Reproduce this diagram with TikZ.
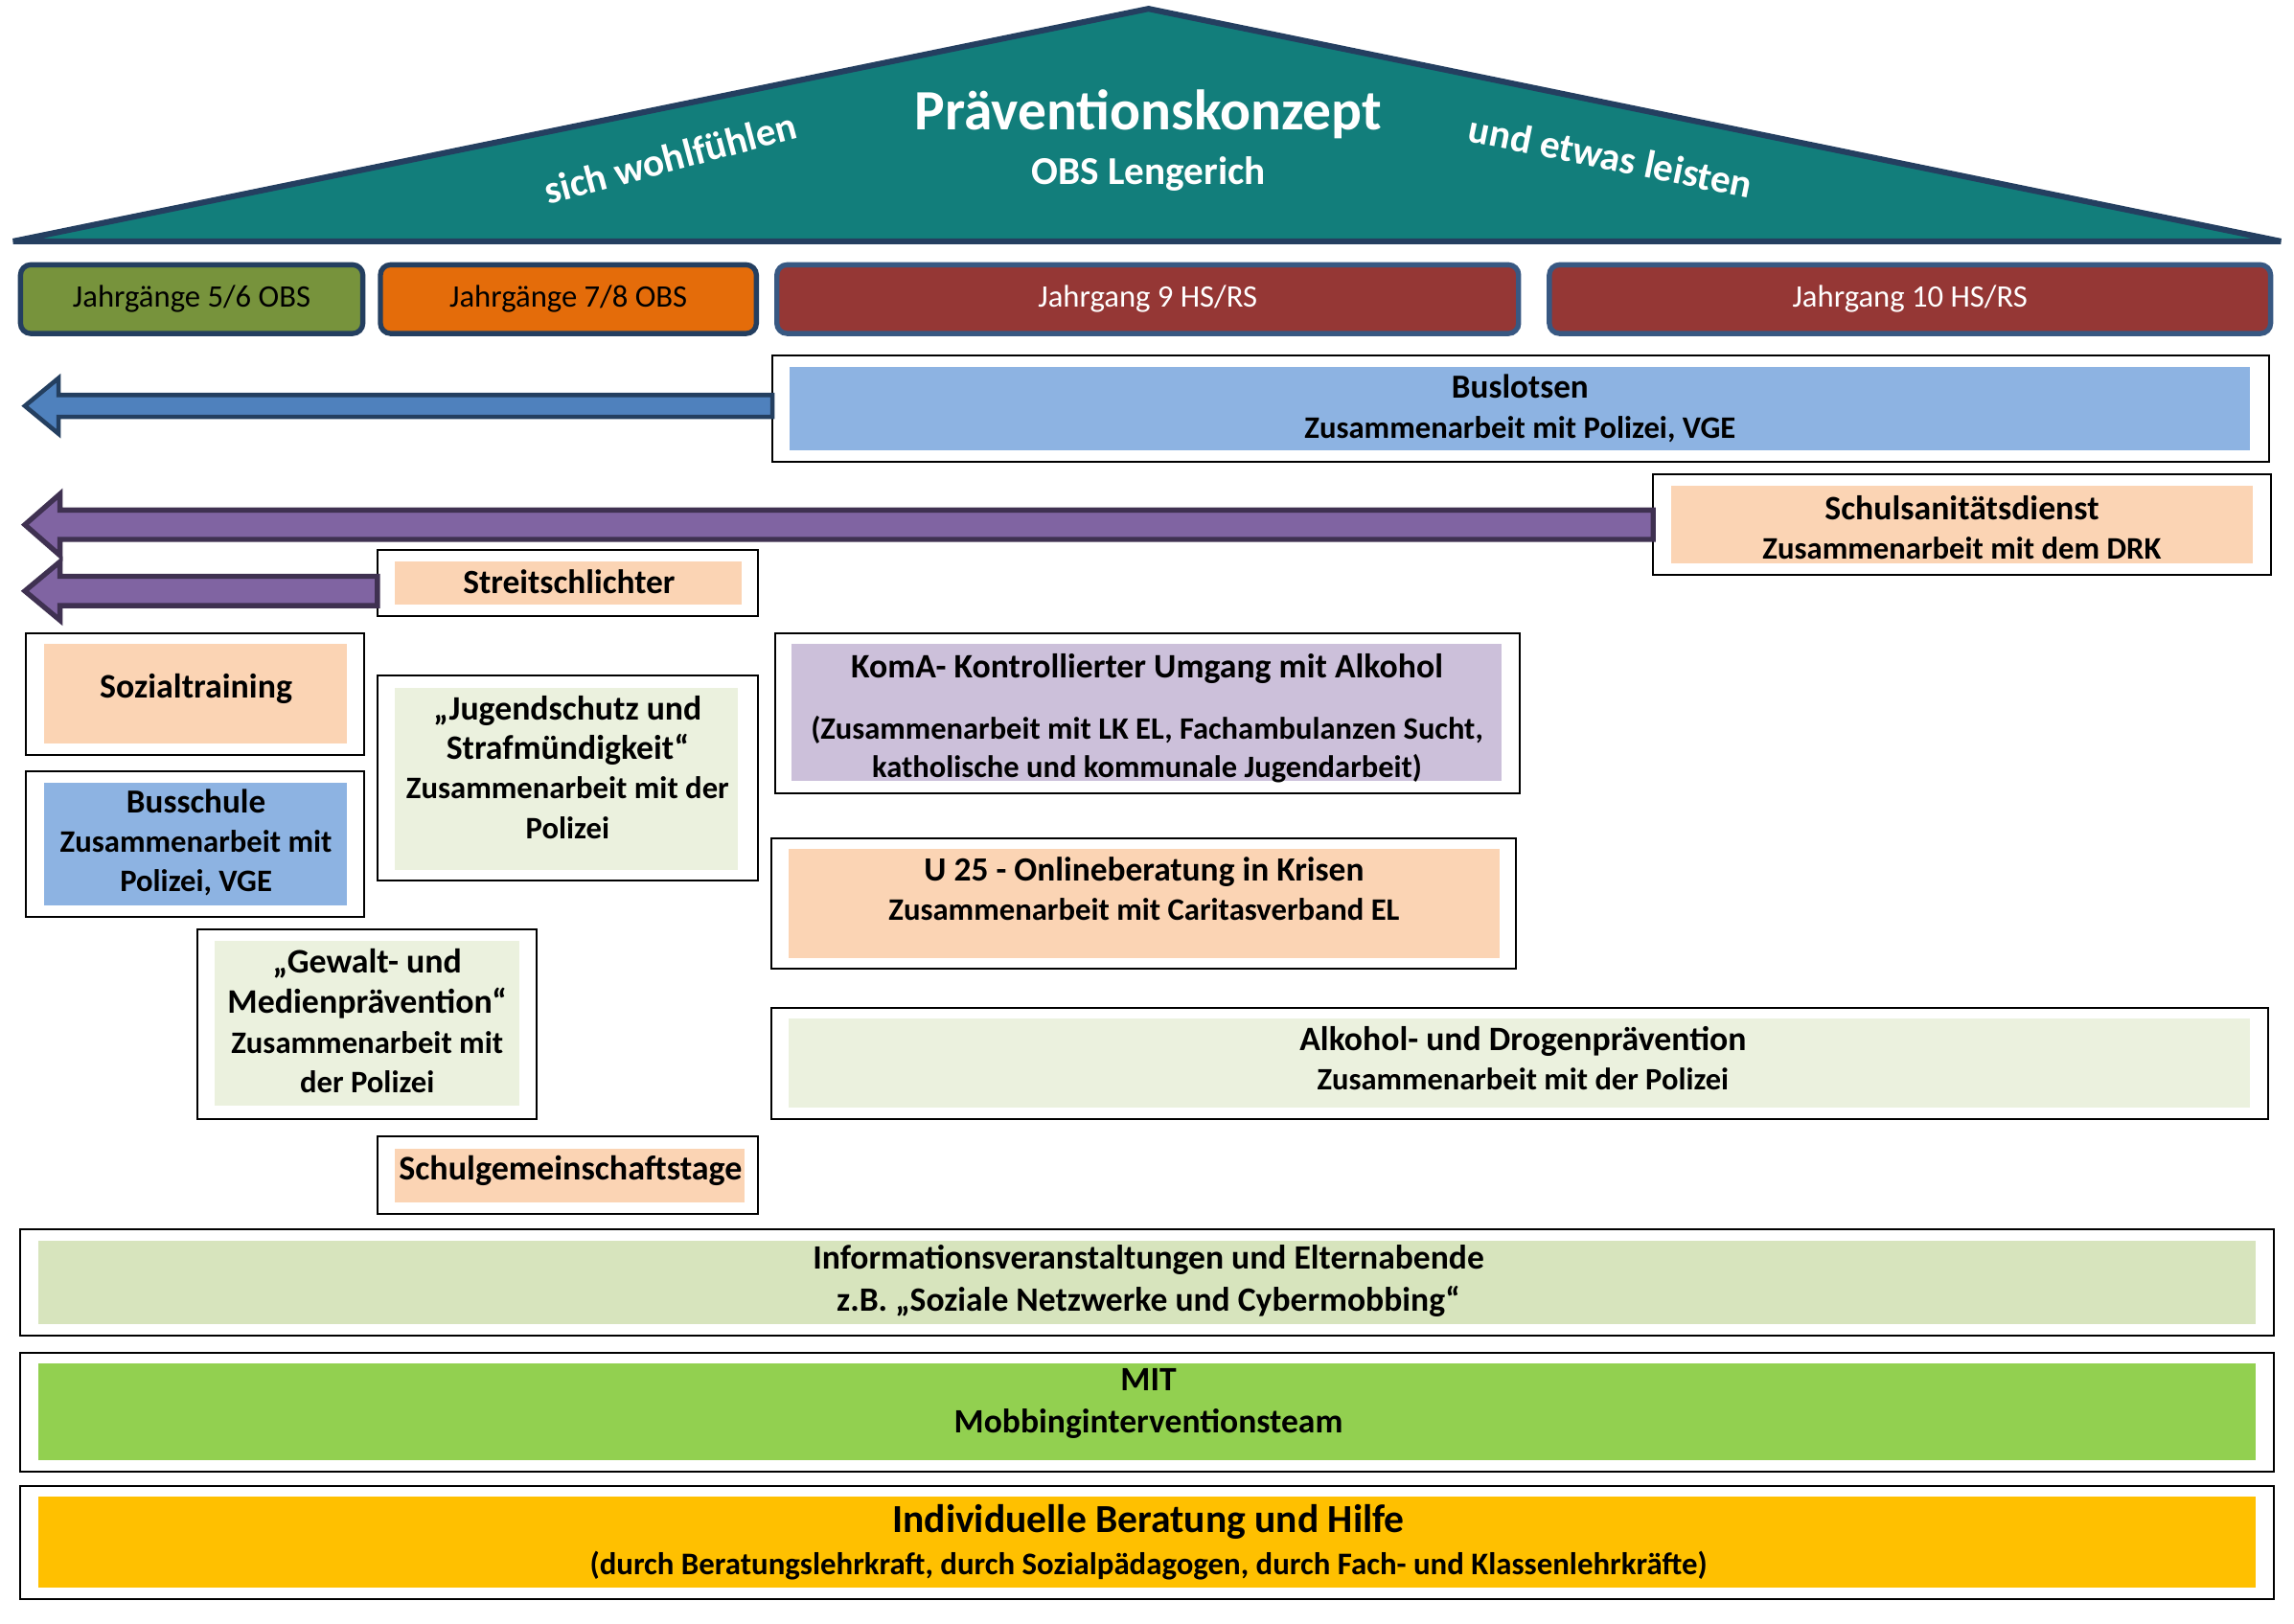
\documentclass[tikz,border=0pt]{standalone}
\usepackage{fontspec}
\setmainfont{Carlito}
\usetikzlibrary{fit,calc}
\definecolor{teal}{RGB}{18,126,123}
\definecolor{navy}{RGB}{36,63,96}
\definecolor{hblue}{RGB}{56,88,130}
\definecolor{hgreen}{RGB}{119,147,60}
\definecolor{horange}{RGB}{228,108,10}
\definecolor{hred}{RGB}{149,55,53}
\definecolor{pblue}{RGB}{141,179,226}
\definecolor{ppeach}{RGB}{251,212,180}
\definecolor{plgreen}{RGB}{235,241,222}
\definecolor{plav}{RGB}{204,192,218}
\definecolor{pinfo}{RGB}{215,228,189}
\definecolor{pmit}{RGB}{146,208,80}
\definecolor{pgold}{RGB}{255,192,0}
\definecolor{ablue}{RGB}{79,129,189}
\definecolor{apurple}{RGB}{128,100,162}
\definecolor{apurpled}{RGB}{63,49,81}
\begin{document}
\begin{tikzpicture}[x=1pt,y=-1pt,
  frame/.style={draw=black,line width=1.3pt,fill=white,inner sep=0pt,outer sep=0pt},
  panel/.style={inner sep=0pt,outer sep=0pt,draw=none},
  hdr/.style={draw=#1,line width=3.5pt,rounded corners=7pt,inner sep=0pt,outer sep=0pt},
  htxt/.style={inner sep=0pt,font=\fontsize{21.4}{25}\selectfont},
  txt/.style={align=center,inner sep=0pt,text=black,font=\bfseries\fontsize{21.4}{27.5}\selectfont},
  rooftxt/.style={inner sep=0pt,text=white,font=\bfseries},
  roof/.style={fill=teal,draw=navy,line width=4pt,line join=bevel},
  bluearr/.style={fill=ablue,draw=navy,line width=3pt,line join=miter},
  purparr/.style={fill=apurple,draw=apurpled,line width=3.5pt,line join=miter}]
\useasboundingbox (0,0) rectangle (1568,1110);
\fill[white] (0,0) rectangle (1568,1110);

% roof
\draw[roof] (9,165) -- (785,6) -- (1559,165) -- cycle;
\node[rooftxt,font=\bfseries\fontsize{39}{43}\selectfont] (title) at (785,78) {Präventionskonzept};
\node[rooftxt,font=\bfseries\fontsize{27}{31}\selectfont] (subtitle) at (785,119) {OBS Lengerich};
\node[rooftxt,font=\bfseries\fontsize{27}{31}\selectfont,rotate=15] (lefttxt) at (458,108) {sich wohlfühlen};
\node[rooftxt,font=\bfseries\fontsize{27}{31}\selectfont,rotate=-11.5] (righttxt) at (1101,107) {und etwas leisten};

% headers
\node[hdr=navy,fill=hgreen,fit={(14,181) (248,228)}] (h1) {};
\node[htxt] (h1t) at (h1.center) {Jahrgänge 5/6 OBS};
\node[hdr=navy,fill=horange,fit={(260,181) (517,228)}] (h2) {};
\node[htxt] (h2t) at (h2.center) {Jahrgänge 7/8 OBS};
\node[hdr=hblue,fill=hred,fit={(531,181) (1038,228)}] (h3) {};
\node[htxt,text=white] (h3t) at (h3.center) {Jahrgang 9 HS/RS};
\node[hdr=hblue,fill=hred,fit={(1059,181) (1552,228)}] (h4) {};
\node[htxt,text=white] (h4t) at (h4.center) {Jahrgang 10 HS/RS};

% Buslotsen
\node[frame,fit={(528,243) (1551,316)}] (busout) {};
\node[panel,fill=pblue,fit={(540,251) (1538,308)}] (busin) {};
\node[txt] (bustxt) at (1039,279) {{\fontsize{23}{1}\selectfont Buslotsen}\\Zusammenarbeit mit Polizei, VGE};

% Schulsanitaetsdienst
\node[frame,fit={(1130,324) (1552,393)}] (sanout) {};
\node[panel,fill=ppeach,fit={(1142,332) (1540,385)}] (sanin) {};
\node[txt,font=\bfseries\fontsize{21.4}{27}\selectfont] (santxt) at (1341,360.5) {{\fontsize{23.4}{1}\selectfont Schulsanitätsdienst}\\Zusammenarbeit mit dem DRK};

% Streitschlichter
\node[frame,fit={(258,376) (518,421)}] (strout) {};
\node[panel,fill=ppeach,fit={(270,384) (507,413)}] (strin) {};
\node[txt,font=\bfseries\fontsize{23.2}{27}\selectfont] (strtxt) at (389,398) {Streitschlichter};

% arrows
\coordinate (t1) at (17,277.5);
\draw[bluearr] (t1) -- ++(23,-19) -- ++(0,11.5) -- ($(busout.west |- t1)+(0,-7.5)$) -- ++(0,15) -- ($(t1)+(23,7.5)$) -- ++(0,11.5) -- cycle;
\coordinate (t2) at (17,358.7);
\draw[purparr] (t2) -- ++(24,-21) -- ++(0,11) -- ($(sanout.west |- t2)+(0,-10)$) -- ++(0,20) -- ($(t2)+(24,10)$) -- ++(0,11) -- cycle;
\coordinate (t3) at (17,404);
\draw[purparr] (t3) -- ++(24,-20) -- ++(0,10) -- ($(strout.west |- t3)+(0,-10)$) -- ++(0,20) -- ($(t3)+(24,10)$) -- ++(0,10) -- cycle;

% Sozialtraining
\node[frame,fit={(18,433) (249,516)}] (sozout) {};
\node[panel,fill=ppeach,fit={(30,440) (237,508)}] (sozin) {};
\node[txt,font=\bfseries\fontsize{23.5}{27}\selectfont] (soztxt) at (134,471) {Sozialtraining};

% Busschule
\node[frame,fit={(18,527) (249,627)}] (bsout) {};
\node[panel,fill=pblue,fit={(30,535) (237,619)}] (bsin) {};
\node[txt,font=\bfseries\fontsize{21.4}{27}\selectfont] (bstxt) at (134,576) {{\fontsize{23}{1}\selectfont Busschule}\\Zusammenarbeit mit\\Polizei, VGE};

% Jugendschutz
\node[frame,fit={(258,462) (518,602)}] (jugout) {};
\node[panel,fill=plgreen,fit={(270,470) (504,595)}] (jugin) {};
\node[txt,font=\bfseries\fontsize{21.4}{27}\selectfont] (jugtxt) at (388,524.5) {{\fontsize{23.4}{1}\selectfont „Jugendschutz und}\\{\fontsize{23.4}{1}\selectfont Strafmündigkeit“}\\Zusammenarbeit mit der\\Polizei};

% Gewalt
\node[frame,fit={(135,635) (367,765)}] (gewout) {};
\node[panel,fill=plgreen,fit={(147,643) (355,756)}] (gewin) {};
\node[txt,font=\bfseries\fontsize{21.4}{27.3}\selectfont] (gewtxt) at (251,698) {{\fontsize{23.5}{1}\selectfont „Gewalt- und}\\{\fontsize{23.5}{1}\selectfont Medienprävention“}\\Zusammenarbeit mit\\der Polizei};

% Schulgemeinschaftstage
\node[frame,fit={(258,777) (518,830)}] (sgout) {};
\node[panel,fill=ppeach,fit={(270,785) (509,822)}] (sgin) {};
\node[txt,font=\bfseries\fontsize{23.6}{27}\selectfont] (sgtxt) at (390,800) {Schulgemeinschaftstage};

% KomA
\node[frame,fit={(530,433) (1039,542)}] (komout) {};
\node[panel,fill=plav,fit={(541,440) (1026,534)}] (komin) {};
\node[txt,font=\bfseries\fontsize{21.3}{26}\selectfont] (komtxt) at (784,491) {{\fontsize{23.4}{1}\selectfont KomA- Kontrollierter Umgang mit Alkohol}\\[16pt](Zusammenarbeit mit LK EL, Fachambulanzen Sucht,\\katholische und kommunale Jugendarbeit)};

% U25
\node[frame,fit={(527,573) (1036,662)}] (u25out) {};
\node[panel,fill=ppeach,fit={(539,580) (1025,655)}] (u25in) {};
\node[txt,font=\bfseries\fontsize{21.4}{27}\selectfont] (u25txt) at (782,607.5) {{\fontsize{23.2}{1}\selectfont U 25 - Onlineberatung in Krisen}\\Zusammenarbeit mit Caritasverband EL};

% Alkohol
\node[frame,fit={(527,689) (1550,765)}] (alkout) {};
\node[panel,fill=plgreen,fit={(539,696) (1538,757)}] (alkin) {};
\node[txt,font=\bfseries\fontsize{21.3}{27}\selectfont] (alktxt) at (1041,723.5) {{\fontsize{23.4}{1}\selectfont Alkohol- und Drogenprävention}\\Zusammenarbeit mit der Polizei};

% Info
\node[frame,fit={(14,840) (1554,913)}] (infout) {};
\node[panel,fill=pinfo,fit={(26,848) (1542,905)}] (infin) {};
\node[txt,font=\bfseries\fontsize{23.3}{29}\selectfont] (inftxt) at (785,875.5) {Informationsveranstaltungen und Elternabende\\z.B. „Soziale Netzwerke und Cybermobbing“};

% MIT
\node[frame,fit={(14,925) (1554,1006)}] (mitout) {};
\node[panel,fill=pmit,fit={(26,932) (1542,998)}] (mitin) {};
\node[txt,font=\bfseries\fontsize{23.3}{29}\selectfont] (mittxt) at (785,959.5) {MIT\\Mobbinginterventionsteam};

% Individuelle Beratung
\node[frame,fit={(14,1016) (1554,1093)}] (indout) {};
\node[panel,fill=pgold,fit={(26,1023) (1542,1085)}] (indin) {};
\node[txt,font=\bfseries\fontsize{21.5}{29}\selectfont] (indtxt) at (785,1054.5) {{\fontsize{27.2}{1}\selectfont Individuelle Beratung und Hilfe}\\(durch Beratungslehrkraft, durch Sozialpädagogen, durch Fach- und Klassenlehrkräfte)};
\end{tikzpicture}
\end{document}
